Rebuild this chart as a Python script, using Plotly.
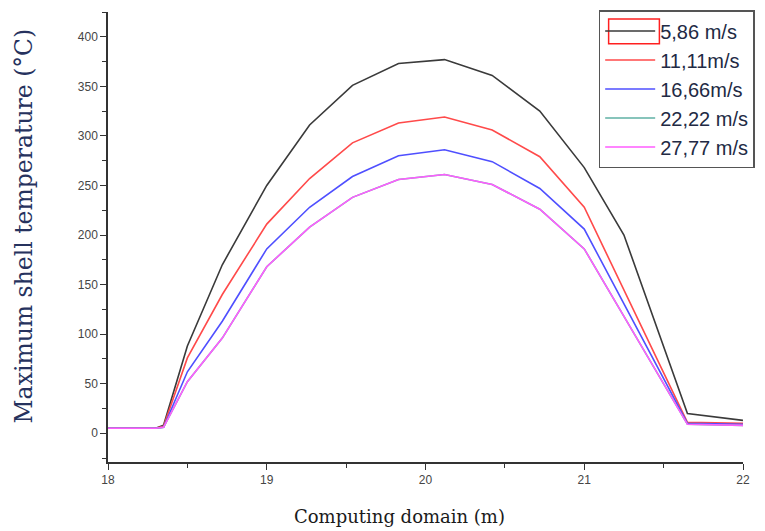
import plotly.graph_objects as go

# Position along the computing domain (m)
x_pos = [18.0, 18.3, 18.35, 18.5, 18.72, 19.0, 19.27, 19.54, 19.83, 20.12,
         20.42, 20.72, 21.0, 21.25, 21.65, 22.0]

# Maximum shell temperature (°C) for each wind speed
t_586 = [5, 5, 8, 88, 170, 250, 311, 351, 373, 377, 361, 325, 268, 200, 20, 13]
t_1111 = [5, 5, 7, 76, 140, 211, 257, 293, 313, 319, 306, 279, 228, 144, 11, 10]
t_1666 = [5, 5, 6, 62, 113, 186, 228, 259, 280, 286, 274, 247, 206, 131, 10, 9]
t_2222 = [5, 5, 6, 52, 96, 168, 208, 238, 256, 261, 251, 226, 186, 118, 9, 8]
t_2777 = [5, 5, 6, 52, 96, 168, 208, 238, 256, 261, 251, 226, 186, 118, 9, 8]

series_names = ["5,86 m/s", "11,11m/s", "16,66m/s", "22,22\u00a0m/s", "27,77\u00a0m/s"]
series_values = [t_586, t_1111, t_1666, t_2222, t_2777]
series_colors = ["#3a3a3a", "#ff4a4a", "#4f4fff", "#5fb0a5", "#ff5cff"]

y_ticks = [0, 50, 100, 150, 200, 250, 300, 350, 400]
x_ticks = [18, 19, 20, 21, 22]

fig = go.Figure()
for name, vals, col in zip(series_names, series_values, series_colors):
    fig.add_trace(go.Scatter(x=x_pos, y=vals, mode="lines", name=name,
                             line=dict(color=col, width=1.6)))

L, R, T, B = 108, 19, 10, 69
W, H = 765, 531
pw, ph = W - L - R, H - T - B


def px_x(p):
    return (p - L) / pw


def px_y(p):
    return (H - B - p) / ph


axis_common = dict(showgrid=False, zeroline=False, showline=True,
                   linecolor="#333333", linewidth=1.5, ticks="outside",
                   tickcolor="#333333", tickwidth=1.3, ticklen=6,
                   tickfont=dict(family="Arial", size=12, color="#454545"))

fig.update_xaxes(range=[18, 22], tickvals=x_ticks,
                 minor=dict(dtick=0.5, tick0=18, ticks="outside", ticklen=4,
                            tickcolor="#333333", tickwidth=1.3),
                 **axis_common)
fig.update_yaxes(range=[-29, 425], tickvals=y_ticks,
                 minor=dict(dtick=25, tick0=0, ticks="outside", ticklen=4,
                            tickcolor="#333333", tickwidth=1.3),
                 **axis_common)

fig.add_annotation(text="Maximum shell temperature (°C)", textangle=-90,
                   xref="paper", yref="paper", x=px_x(24), y=px_y(225),
                   xanchor="center", yanchor="middle", showarrow=False,
                   font=dict(family="DejaVu Serif", size=23.5, color="#26325e"))
fig.add_annotation(text="Computing domain (m)",
                   xref="paper", yref="paper", x=px_x(401), y=px_y(517),
                   xanchor="center", yanchor="middle", showarrow=False,
                   font=dict(family="DejaVu Serif", size=18, color="#1a1a1a"))

# red highlight box around the first legend sample
fig.add_shape(type="rect", xref="paper", yref="paper",
              x0=px_x(611), x1=px_x(662), y0=px_y(42), y1=px_y(17),
              line=dict(color="#ff2020", width=1.5))

fig.update_layout(
    width=W, height=H,
    margin=dict(l=L, r=R, t=T, b=B),
    paper_bgcolor="white", plot_bgcolor="white",
    showlegend=True,
    legend=dict(x=px_x(601), y=px_y(8), xanchor="left", yanchor="top",
                bgcolor="rgba(255,255,255,0)", bordercolor="#555555",
                borderwidth=1.5,
                font=dict(family="Arial", size=20, color="#222a44"),
                itemwidth=50, tracegroupgap=0),
)

fig.write_html("out.html")
